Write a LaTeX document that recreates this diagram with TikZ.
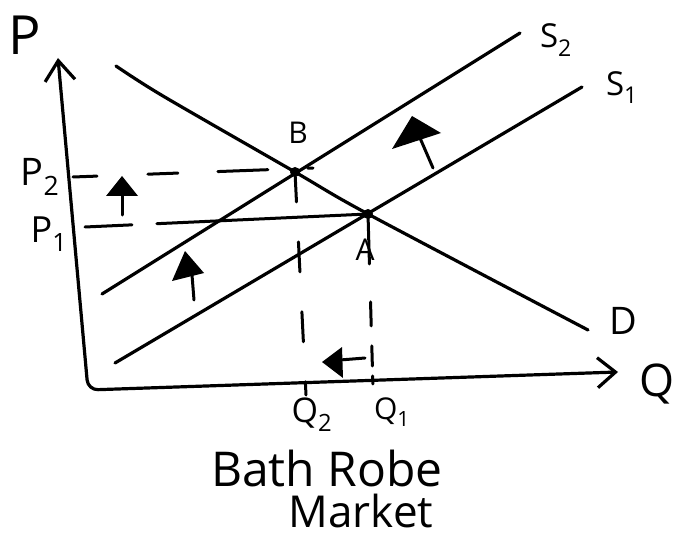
\documentclass[tikz,border=0pt]{standalone}
\usepackage{fontspec}
\setmainfont{Open Sans}
\usetikzlibrary{arrows.meta}
\begin{document}
\begin{tikzpicture}[x=1pt,y=-1pt,line width=3.2pt,line cap=round,line join=round,
  lbl/.style={inner sep=0pt,font=\fontsize{#1}{#1}\selectfont},
  dotpt/.style={circle,fill,inner sep=0pt,minimum size=10pt},
  axis/.style={{Straight Barb[length=20pt,width=30pt]}-{Straight Barb[length=18pt,width=30pt]},rounded corners=10pt},
  curve/.style={line width=3.2pt},
  guide/.style={line width=3pt},
  fat/.style={fill=black,line width=2pt}]
\useasboundingbox (0,0) rectangle (676,537);
% axes
\coordinate (ytip) at (58,58);
\coordinate (O) at (88,390);
\coordinate (xtip) at (618,372);
\draw[axis] (ytip) -- (O) -- (xtip);
% supply curves
\coordinate (s2a) at (102,294);
\coordinate (s2b) at (520,33);
\coordinate (s1a) at (115,363);
\coordinate (s1b) at (582,87);
\draw[curve] (s2a) -- (s2b);
\draw[curve] (s1a) -- (s1b);
% demand curve
\draw[curve] plot[smooth] coordinates {(116,66) (163,96) (295,172) (368,214) (588,330)};
% equilibrium points
\node[dotpt] (B) at (295,172) {};
\node[dotpt] (A) at (368,214) {};
% guide lines
\coordinate (p2s) at (73,177);
\coordinate (p2e) at (313,168);
\draw[guide,dash pattern=on 24pt off 51pt on 30pt off 40pt on 50pt off 40pt on 6pt] (p2s) -- (p2e);
\coordinate (p1s) at (85,227);
\draw[guide,dash pattern=on 47pt off 25pt on 400pt] (p1s) -- (A.center);
\coordinate (q2b) at (306,395);
\draw[guide,dash pattern=on 30pt off 40pt] (B.center) -- (q2b);
\coordinate (q1b) at (373,388);
\draw[guide,dash pattern=on 50pt off 38pt on 24pt off 20pt on 20pt off 10pt on 8pt] (A.center) -- (q1b);
% shift arrows
\fill[fat] (106,196) -- (122,176) -- (138,196) -- cycle;
\draw[guide] (122,190) -- (122,215);
\fill[fat] (185,251) -- (172,281) -- (204,273) -- cycle;
\draw[guide] (192,275) -- (194,300);
\fill[fat] (322,362) -- (342,347) -- (343,378) -- cycle;
\draw[guide] (340,360) -- (365,358);
\fill[fat] (412,116) -- (392,149) -- (441,133) -- cycle;
\draw[guide] (420,138) -- (433,168);
% labels
\node[lbl=54] (lP) at (25,35) {P};
\node[lbl=45] (lQ) at (657,384) {Q};
\node[lbl=33] (lS2) at (556,40) {S\textsubscript{2}};
\node[lbl=33] (lS1) at (622,88) {S\textsubscript{1}};
\node[lbl=38] (lD) at (623,321) {D};
\node[lbl=30] (lB) at (298,133) {B};
\node[lbl=30] (lA) at (365,250) {A};
\node[lbl=38] (lP2) at (40,177) {P\textsubscript{2}};
\node[lbl=36] (lP1) at (49,234) {P\textsubscript{1}};
\node[lbl=34] (lQ2) at (312,415) {Q\textsubscript{2}};
\node[lbl=30] (lQ1) at (392,412) {Q\textsubscript{1}};
\node[lbl=48] (t1) at (327,468) {Bath Robe};
\node[lbl=44,anchor=base,text depth=0pt] (t2) at (361,527) {Market};
\end{tikzpicture}
\end{document}
